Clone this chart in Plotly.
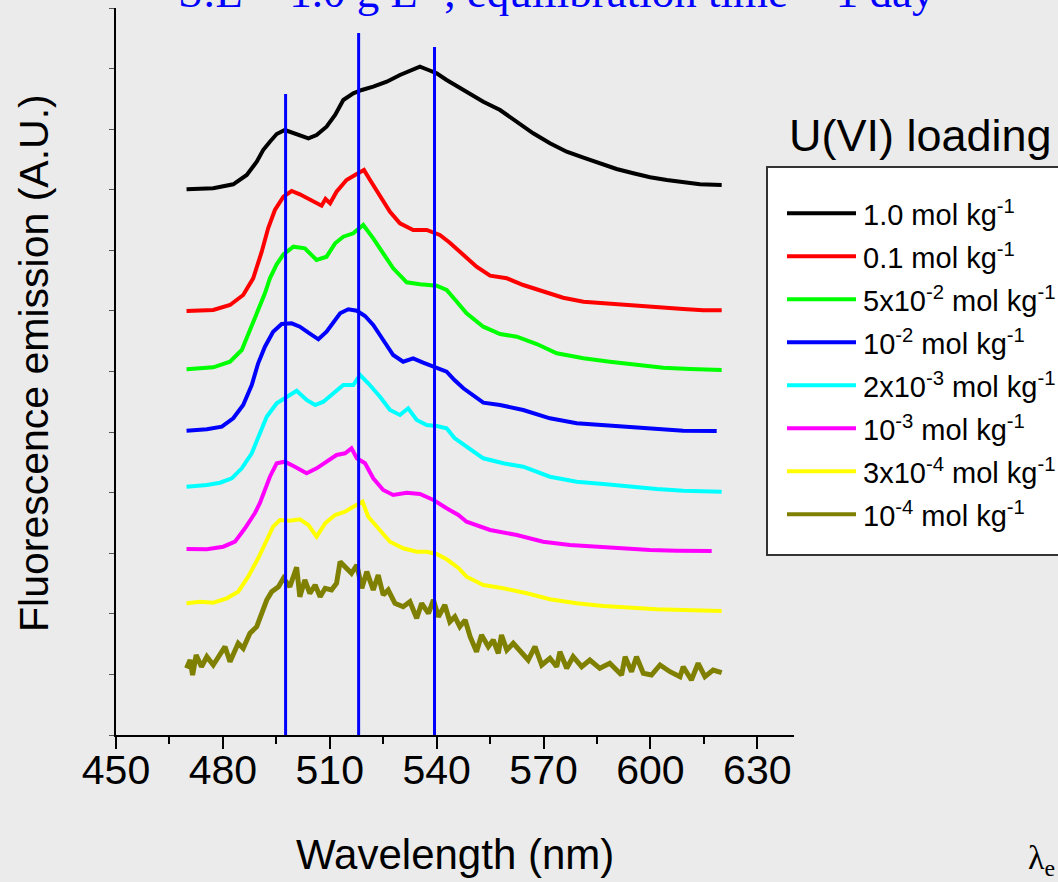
import plotly.graph_objects as go

# ---------------- data ----------------
series_names = [
    "1.0 mol kg<sup>-1</sup>",
    "0.1 mol kg<sup>-1</sup>",
    "5x10<sup>-2</sup> mol kg<sup>-1</sup>",
    "10<sup>-2</sup> mol kg<sup>-1</sup>",
    "2x10<sup>-3</sup> mol kg<sup>-1</sup>",
    "10<sup>-3</sup> mol kg<sup>-1</sup>",
    "3x10<sup>-4</sup> mol kg<sup>-1</sup>",
    "10<sup>-4</sup> mol kg<sup>-1</sup>",
]
series_colors = ["#000000", "#ff0000", "#00ff00", "#0000ff",
                 "#00ffff", "#ff00ff", "#ffff00", "#808000"]

wl_1e0 = [469.8, 477.3, 482.9, 486.7, 489.5, 491.3, 493.2, 495.1, 497.4, 499.8, 504.0, 506.3,
          509.1, 511.5, 513.8, 516.6, 519.0, 522.2, 526.0, 529.7, 533.4, 535.3, 537.7, 540.0,
          542.8, 547.5, 553.1, 557.8, 562.5, 567.1, 571.8, 576.5, 581.2, 585.8, 590.5, 595.2,
          599.9, 604.6, 609.2, 613.9, 620.0]
int_1e0 = [545.7, 546.7, 550.7, 560.0, 573.3, 585.0, 593.3, 601.0, 605.0, 601.7, 596.7, 600.0,
           608.3, 620.0, 635.0, 641.7, 645.0, 648.3, 653.3, 660.0, 665.0, 668.3, 665.0, 661.7,
           655.0, 645.0, 633.3, 625.0, 613.3, 601.7, 591.7, 583.3, 577.3, 571.7, 566.0, 561.7,
           557.7, 555.0, 552.7, 550.7, 550.0]

wl_1e_1 = [469.8, 477.3, 482.0, 485.7, 488.5, 490.9, 492.7, 494.6, 497.0, 499.3, 501.6, 504.9,
           507.7, 508.8, 510.1, 511.9, 514.7, 517.1, 519.6, 521.3, 524.1, 526.9, 529.7, 533.4,
           537.2, 540.9, 543.7, 547.5, 551.2, 555.0, 559.7, 564.3, 569.9, 575.5, 581.2, 586.8,
           592.4, 598.0, 603.6, 609.2, 614.8, 620.0]
int_1e_1 = [424.0, 425.0, 430.0, 440.0, 456.7, 483.3, 506.7, 525.0, 538.3, 544.0, 540.7, 535.0,
            529.3, 536.0, 531.7, 543.3, 555.0, 560.0, 565.0, 555.0, 540.0, 523.3, 511.7, 505.0,
            505.0, 500.0, 492.3, 480.0, 468.3, 459.3, 456.7, 450.0, 443.3, 437.3, 433.3, 431.7,
            430.0, 429.3, 426.7, 426.0, 424.7, 424.7]

wl_5e_2 = [469.8, 477.3, 482.0, 485.3, 487.6, 489.9, 491.8, 493.2, 495.1, 497.0, 499.8, 503.0,
           506.3, 509.1, 511.5, 513.8, 516.6, 519.4, 522.2, 525.0, 527.8, 531.6, 535.3, 540.0,
           542.8, 545.0, 548.4, 553.1, 557.8, 562.5, 568.1, 573.7, 581.2, 588.6, 596.1, 603.6,
           611.1, 620.0]
int_5e_2 = [365.7, 367.7, 373.3, 385.0, 405.0, 425.0, 441.7, 456.7, 470.7, 480.7, 488.3, 486.7,
            475.0, 478.3, 491.7, 498.3, 501.7, 510.0, 496.7, 481.7, 466.7, 452.7, 450.7, 449.3,
            445.0, 436.0, 421.7, 408.3, 401.0, 398.3, 391.0, 381.7, 376.7, 373.3, 370.0, 367.3,
            366.0, 365.0]

wl_1e_2 = [469.8, 475.5, 479.7, 482.9, 485.7, 488.1, 489.9, 491.8, 494.1, 496.5, 499.3, 501.6,
           504.0, 506.8, 509.1, 511.0, 512.9, 515.2, 517.6, 519.9, 522.2, 525.0, 527.8, 530.6,
           533.4, 536.2, 539.1, 542.8, 545.0, 547.5, 553.1, 557.8, 564.3, 571.8, 579.3, 586.8,
           594.3, 601.8, 609.2, 618.6]
int_1e_2 = [304.3, 305.7, 308.3, 316.7, 330.0, 350.0, 371.7, 388.3, 403.3, 411.0, 411.7, 408.3,
            402.3, 395.7, 403.3, 413.3, 421.7, 425.7, 424.3, 419.0, 410.0, 395.0, 380.0, 373.3,
            376.7, 372.3, 368.3, 363.3, 355.0, 346.7, 332.3, 330.0, 325.0, 316.7, 311.7, 310.0,
            307.7, 305.7, 304.3, 304.0]

wl_2e_3 = [469.8, 475.5, 479.2, 482.5, 485.3, 488.1, 490.4, 492.3, 495.1, 497.9, 500.7, 503.5,
           505.9, 508.2, 511.0, 513.8, 516.6, 518.5, 520.8, 524.1, 526.9, 529.7, 532.0, 534.4,
           537.2, 540.0, 542.8, 545.0, 548.4, 553.1, 558.7, 564.3, 571.8, 579.3, 586.8, 594.3,
           601.8, 609.2, 620.0]
int_2e_3 = [248.3, 250.0, 252.3, 256.7, 266.7, 281.7, 301.7, 318.3, 331.7, 338.3, 344.3, 335.0,
            330.0, 333.3, 341.7, 350.0, 350.0, 360.0, 351.7, 338.3, 325.0, 320.0, 326.7, 315.0,
            310.0, 309.0, 306.7, 297.0, 288.3, 276.7, 271.7, 268.3, 258.3, 253.3, 251.0, 248.3,
            246.0, 244.3, 243.3]

wl_1e_3 = [469.8, 475.5, 480.1, 483.4, 486.2, 489.0, 490.4, 491.8, 493.2, 495.1, 497.4, 500.2,
           503.5, 506.3, 509.1, 511.9, 514.3, 516.1, 517.6, 519.9, 522.2, 525.0, 527.8, 531.6,
           535.3, 539.1, 542.8, 546.1, 548.4, 555.0, 562.5, 569.9, 577.4, 584.9, 592.4, 599.9,
           607.4, 617.2]
int_1e_3 = [186.0, 185.7, 188.3, 193.3, 206.7, 222.0, 232.0, 245.0, 258.3, 271.7, 273.3, 268.3,
            261.7, 266.7, 273.3, 280.0, 281.7, 286.7, 276.7, 271.7, 256.7, 245.0, 240.0, 242.3,
            241.0, 235.0, 226.7, 220.0, 213.3, 205.0, 200.0, 193.3, 190.0, 188.3, 186.7, 185.0,
            184.3, 184.0]

wl_3e_4 = [469.8, 473.6, 477.3, 481.1, 484.3, 487.1, 489.9, 492.3, 494.1, 496.0, 498.8, 501.6,
           504.0, 506.3, 508.7, 511.5, 514.3, 516.6, 519.2, 520.8, 523.6, 526.9, 530.6, 534.4,
           537.2, 540.0, 542.8, 546.1, 548.4, 553.1, 558.7, 565.3, 571.8, 579.3, 586.8, 594.3,
           601.8, 609.2, 620.0]
int_3e_4 = [131.7, 133.3, 132.3, 136.7, 143.3, 158.3, 176.7, 195.0, 208.3, 215.0, 214.3, 215.7,
            210.0, 198.3, 211.7, 220.0, 223.3, 228.3, 233.3, 218.3, 206.7, 193.3, 186.7, 183.3,
            183.3, 181.0, 175.7, 167.0, 158.3, 150.0, 146.7, 141.7, 135.7, 131.7, 129.0, 127.3,
            125.7, 125.0, 124.0]

wl_1e_4 = [469.8, 470.8, 471.5, 472.5, 474.0, 475.5, 477.3, 478.7, 480.6, 482.0, 484.3, 485.7,
           487.6, 489.5, 490.9, 492.3, 493.7, 495.6, 497.0, 498.8, 500.7, 501.6, 503.0, 504.4,
           505.9, 507.3, 508.7, 510.5, 511.9, 512.9, 514.7, 516.1, 517.6, 519.0, 520.4, 522.2,
           523.6, 525.0, 526.4, 528.3, 530.6, 532.5, 534.4, 535.8, 537.7, 539.1, 540.5, 542.3,
           543.7, 545.1, 546.5, 548.0, 549.4, 551.2, 552.6, 554.5, 555.9, 557.3, 558.2, 559.7,
           561.5, 563.4, 565.7, 567.6, 569.5, 571.8, 573.7, 574.6, 576.5, 578.3, 580.7, 583.0,
           585.8, 588.6, 591.9, 592.9, 594.7, 596.1, 598.0, 600.3, 602.7, 605.5, 608.3, 609.2,
           611.5, 613.4, 615.3, 617.6, 620.0]
int_1e_4 = [66.7, 75.0, 60.0, 80.0, 68.3, 78.3, 70.0, 78.3, 88.3, 73.3, 91.7, 86.7,
            101.7, 108.3, 121.7, 135.0, 143.3, 148.3, 156.7, 148.3, 167.7, 138.3, 155.0, 141.7,
            150.0, 138.3, 146.7, 145.0, 151.7, 173.3, 166.7, 161.7, 170.0, 146.7, 163.3, 145.0,
            160.0, 140.0, 145.0, 131.7, 128.3, 133.3, 116.7, 131.7, 121.7, 135.0, 118.3, 130.0,
            113.3, 118.3, 108.3, 115.0, 98.3, 83.3, 100.0, 88.3, 95.0, 81.7, 100.0, 85.0,
            91.7, 83.3, 75.0, 88.3, 70.0, 76.7, 68.3, 83.3, 66.7, 78.3, 68.3, 75.0,
            66.7, 71.7, 60.0, 78.3, 63.3, 78.3, 61.7, 60.0, 70.0, 63.3, 58.3, 68.3,
            55.0, 71.7, 58.3, 65.0, 62.3]

series_wl = [wl_1e0, wl_1e_1, wl_5e_2, wl_1e_2, wl_2e_3, wl_1e_3, wl_3e_4, wl_1e_4]
series_int = [int_1e0, int_1e_1, int_5e_2, int_1e_2, int_2e_3, int_1e_3, int_3e_4, int_1e_4]
series_widths = [4, 4, 4, 4, 4, 4, 4, 5]

# reference peak lines (nm) and their top ends (A.U.)
peak_wl = [497.6, 518.1, 539.4]
peak_top = [641.0, 702.0, 688.0]

x_ticks = [450, 480, 510, 540, 570, 600, 630]
x_range = [450, 640.3]
y_range = [0, 727]
y_tick_step = 60.58

title_text = "S:L = 1.0 g L<sup>-1</sup>, equilibration time = 1 day"
legend_title = "U(VI) loading"
x_title = "Wavelength (nm)"
y_title = "Fluorescence emission (A.U.)"

# ---------------- figure ----------------
W, H = 1058, 882
ML, MR, MT, MB = 116, 264, 8, 147
PW, PH = W - ML - MR, H - MT - MB

def px(x):  # pixel -> paper x
    return (x - ML) / PW

def py(y):  # pixel -> paper y
    return (H - MB - y) / PH

sans = "Liberation Sans, Arial, sans-serif"
serif = "Liberation Serif, Times New Roman, serif"
BG = "#ebebeb"

fig = go.Figure()
for name, col, wl, inten, lw in zip(series_names, series_colors, series_wl, series_int, series_widths):
    fig.add_trace(go.Scatter(x=wl, y=inten, mode="lines", name=name,
                             line=dict(color=col, width=lw), showlegend=False))

for w, t in zip(peak_wl, peak_top):
    fig.add_trace(go.Scatter(x=[w, w], y=[0, t], mode="lines",
                             line=dict(color="#0000ff", width=3), showlegend=False))

fig.update_layout(
    width=W, height=H,
    margin=dict(l=ML, r=MR, t=MT, b=MB, autoexpand=False),
    paper_bgcolor=BG, plot_bgcolor=BG,
    showlegend=False,
)
fig.update_xaxes(
    range=x_range, tickmode="array", tickvals=x_ticks, ticktext=[str(v) for v in x_ticks],
    ticks="outside", ticklen=12, tickwidth=2, tickcolor="black",
    minor=dict(ticks="outside", ticklen=7, tickwidth=2, tickcolor="black", dtick=15, tick0=450),
    showline=True, linewidth=2, linecolor="black", showgrid=False, zeroline=False,
    tickfont=dict(family=sans, size=41, color="black"), automargin=False,
    ticklabelstandoff=-14,
)
fig.update_yaxes(
    range=y_range, tick0=0, dtick=y_tick_step, showticklabels=False,
    ticks="outside", ticklen=5, tickwidth=1, tickcolor="#555555",
    showline=True, linewidth=2, linecolor="black", showgrid=False, zeroline=False,
    automargin=False,
)

# manual legend
shapes = [dict(type="rect", xref="paper", yref="paper",
               x0=px(767), x1=px(1075), y0=py(555), y1=py(167),
               fillcolor="white", line=dict(color="#333333", width=2), layer="above")]
annotations = []
for i, (name, col) in enumerate(zip(series_names, series_colors)):
    yy = py(213.3 + 43.0 * i)
    shapes.append(dict(type="line", xref="paper", yref="paper",
                       x0=px(787), x1=px(856), y0=yy, y1=yy,
                       line=dict(color=col, width=4), layer="above"))
    annotations.append(dict(xref="paper", yref="paper", x=px(861), y=yy,
                            xanchor="left", yanchor="middle", showarrow=False,
                            text=name, font=dict(family=sans, size=29, color="black")))

annotations.append(dict(xref="paper", yref="paper", x=px(920), y=py(135),
                        xanchor="center", yanchor="middle", showarrow=False,
                        text=legend_title, font=dict(family=sans, size=45, color="black")))
annotations.append(dict(xref="paper", yref="paper", x=px(556), y=py(19),
                        xanchor="center", yanchor="bottom", showarrow=False,
                        text=title_text, font=dict(family=serif, size=45, color="#0000ff")))
annotations.append(dict(xref="paper", yref="paper", x=px(1026), y=py(860),
                        xanchor="left", yanchor="middle", showarrow=False,
                        text="λ<sub>e</sub>", font=dict(family=serif, size=34, color="black")))
# axis titles
annotations.append(dict(xref="paper", yref="paper", x=px(455), y=py(854),
                        xanchor="center", yanchor="middle", showarrow=False,
                        text=x_title, font=dict(family=sans, size=42, color="black")))
annotations.append(dict(xref="paper", yref="paper", x=px(34), y=py(363),
                        xanchor="center", yanchor="middle", showarrow=False, textangle=-90,
                        text=y_title, font=dict(family=sans, size=41, color="black")))

fig.update_layout(shapes=shapes, annotations=annotations)
fig.write_html(
    "out.html",
    config={"displayModeBar": False},
    post_script=("document.body.style.margin='0';"
                 "document.body.style.background='#ebebeb';"
                 "document.documentElement.style.background='#ebebeb';"),
)
